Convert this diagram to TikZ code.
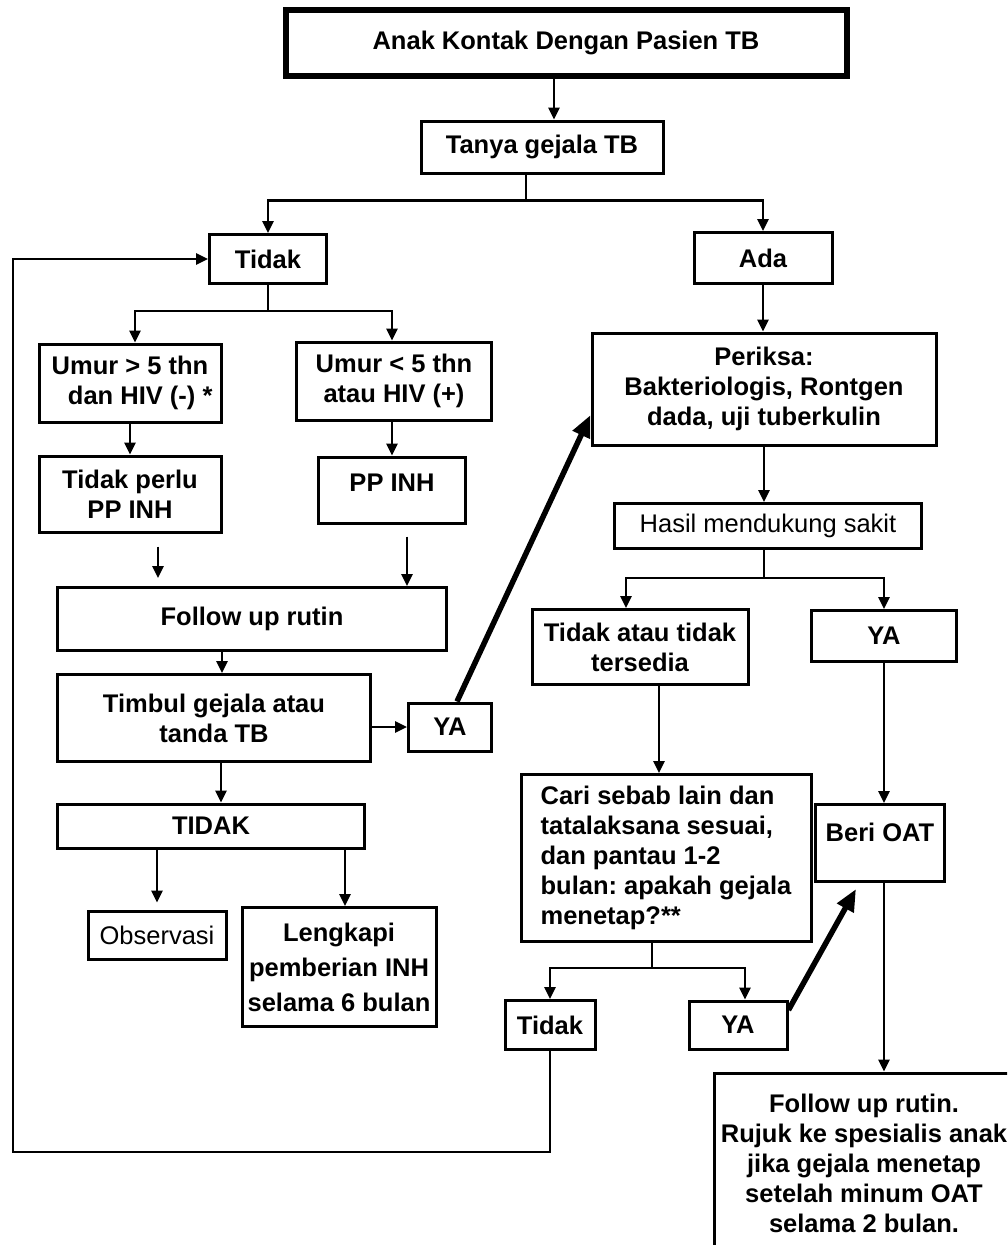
\documentclass[tikz,border=0pt]{standalone}
\usepackage{fontspec}
\setmainfont{Liberation Sans}
\usetikzlibrary{arrows.meta, calc}

\begin{document}
\begin{tikzpicture}[x=1pt, y=-1pt,
  box/.style={draw, line width=3pt, align=center, inner sep=0pt, font=\fontsize{25.5}{30}\selectfont\bfseries\frenchspacing},
  thinbox/.style={box, font=\fontsize{25.5}{30}\selectfont},
  arr/.style={-{Triangle[length=12pt, width=11pt]}, line width=2.7pt},
  bigarr/.style={-{Triangle[length=22pt, width=18pt]}, line width=5.5pt}]
  \useasboundingbox (0,0) rectangle (1007,1245);
  \clip (0,0) rectangle (1007,1245);
  % Start and first question
  \node[box, line width=6pt, minimum width=561pt, minimum height=66pt] (anak) at (566,43) {Anak Kontak Dengan Pasien TB};
  \node[box, minimum width=242pt, minimum height=52pt] (tanya) at (542,147) {Tanya gejala TB};
  \node[box, minimum width=117pt, minimum height=49pt] (tidak) at (268,259) {Tidak};
  \node[box, minimum width=138pt, minimum height=51pt] (ada) at (763,258) {Ada};
  % Left branch
  \node[box, minimum width=182pt, minimum height=78pt] (umurA) at (130,383) {Umur > 5 thn\\\hspace*{0.8em}dan HIV (-) *};
  \node[box, minimum width=195pt, minimum height=78pt] (umurB) at (394,381) {Umur < 5 thn\\atau HIV (+)};
  \node[box, minimum width=182pt, minimum height=76pt] (tdkperlu) at (130,494) {Tidak perlu\\PP INH};
  \node[box, minimum width=147pt, minimum height=66pt, text depth=14pt] (ppinh) at (392,490) {PP INH};
  \node[box, minimum width=389pt, minimum height=63pt] (follow) at (252,619) {Follow up rutin};
  \node[box, minimum width=313pt, minimum height=87pt] (timbul) at (214,718) {Timbul gejala atau\\tanda TB};
  \node[box, minimum width=83pt, minimum height=48pt] (yaA) at (450,727) {YA};
  \node[box, minimum width=307pt, minimum height=44pt] (tidakB) at (211,826) {TIDAK};
  \node[thinbox, minimum width=138pt, minimum height=48pt] (obs) at (157,935) {Observasi};
  \node[box, minimum width=194pt, minimum height=119pt] (lengkapi) at (339,967) {Lengkapi\\[5pt]pemberian INH\\[5pt]selama 6 bulan};
  % Right branch
  \node[box, minimum width=344pt, minimum height=112pt] (periksa) at (764,389) {Periksa:\\Bakteriologis, Rontgen\\dada, uji tuberkulin};
  \node[thinbox, minimum width=307pt, minimum height=45pt] (hasil) at (768,526) {Hasil mendukung sakit};
  \node[box, minimum width=216pt, minimum height=75pt] (tdkatau) at (640,647) {Tidak atau tidak\\tersedia};
  \node[box, minimum width=145pt, minimum height=51pt] (yaB) at (884,636) {YA};
  \node[box, align=left, minimum width=290pt, minimum height=167pt] (cari) at (666,858) {Cari sebab lain dan\\tatalaksana sesuai,\\dan pantau 1-2\\bulan: apakah gejala\\menetap?**};
  \node[box, minimum width=129pt, minimum height=77pt, text depth=22pt] (beri) at (880,843) {Beri OAT};
  \node[box, minimum width=90pt, minimum height=49pt] (tidakC) at (550,1025) {Tidak};
  \node[box, minimum width=98pt, minimum height=48pt] (yaC) at (738,1025) {YA};
  \node[box, minimum width=300pt, minimum height=180pt] (follow2) at (864,1163) {Follow up rutin.\\Rujuk ke spesialis anak\\jika gejala menetap\\setelah minum OAT\\selama 2 bulan.};
  % Left connectors
  \draw[arr] ([xshift=-12pt]anak.south) -- ([xshift=12pt]tanya.north);
  \draw[arr] ([xshift=-16pt]tanya.south) -- ++(0,26) -| (tidak);
  \draw[arr] ([xshift=-16pt]tanya.south) -- ++(0,26) -| (ada);
  \draw[arr] (tidak.south) -- ++(0,26) -| ($(umurA.north)+(5,0)$);
  \draw[arr] (tidak.south) -- ++(0,26) -| ($(umurB.north)+(-2,0)$);
  \draw[arr] (umurA) -- (tdkperlu);
  \draw[arr] (umurB.south -| ppinh) -- (ppinh);
  \draw[arr] ($(tdkperlu.south)+(28,13)$) -- ($(follow.north)+(-94,-8)$);
  \draw[arr] ($(ppinh.south)+(15,12)$) -- ($(follow.north)+(155,0)$);
  \draw[arr] ($(follow.south)+(-30,0)$) -- ($(timbul.north)+(8,0)$);
  \draw[arr] (timbul.east |- yaA) -- (yaA);
  \draw[bigarr] ($(yaA.north)+(7,0)$) -- ($(periksa.west)+(0,26)$);
  \draw[arr] ($(timbul.south)+(7,0)$) -- ($(tidakB.north)+(10,0)$);
  \draw[arr] (tidakB.south -| obs) -- ($(obs.north)+(0,-7)$);
  \draw[arr] ($(tidakB.south -| lengkapi)+(6,0)$) -- ($(lengkapi.north)+(6,0)$);
  % Right connectors
  \draw[arr] (ada) -- (ada |- periksa.north);
  \draw[arr] (periksa) -- (periksa |- hasil.north);
  \draw[arr] (periksa.south |- hasil.south) -- ++(0,28) -| ($(tdkatau.north)+(-14,0)$);
  \draw[arr] (periksa.south |- hasil.south) -- ++(0,28) -| (yaB);
  \draw[arr] ($(tdkatau.south)+(19,0)$) -- ($(cari.north)+(-7,0)$);
  \draw[arr] (yaB) -- (yaB |- beri.north);
  \draw[arr] (beri.south -| yaB) -- (yaB |- follow2.north);
  \draw[arr] ($(cari.south)+(-14,0)$) -- ++(0,25) -| (tidakC);
  \draw[arr] ($(cari.south)+(-14,0)$) -- ++(0,25) -| ($(yaC.north)+(7,0)$);
  \draw[bigarr] ($(yaC.east)+(0,-15)$) -- ($(beri.south)+(-24,6)$);
  % Back to Tidak
  \draw[arr] (tidakC.south) |- (13,1152) |- (tidak.west);
\end{tikzpicture}
\end{document}
